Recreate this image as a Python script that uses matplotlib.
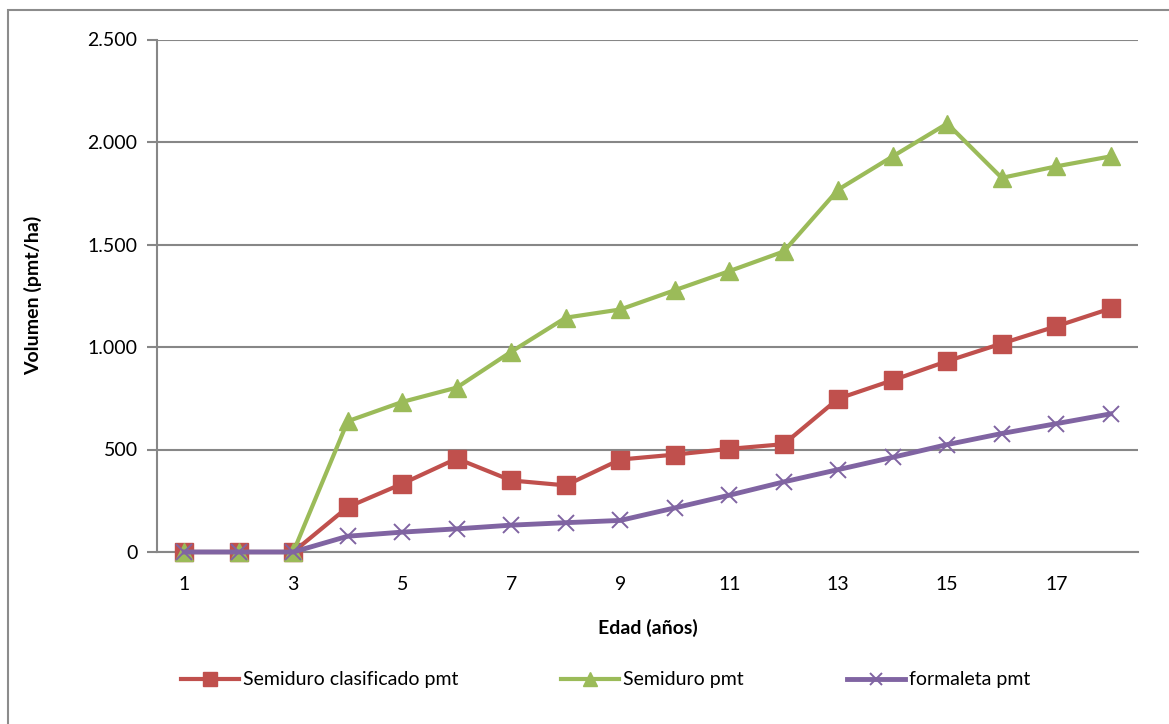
import matplotlib

matplotlib.use("Agg")
import matplotlib.pyplot as plt
from matplotlib.patches import Rectangle
from matplotlib.ticker import FuncFormatter

# Edad (años) y volumen acumulado por tipo de madera (pmt/ha)
edad = list(range(1, 19))
semiduro_clasificado = [0, 0, 0, 219, 333, 456, 349, 325, 451, 475, 503, 526, 748, 838, 931, 1017, 1101, 1188]
semiduro = [0, 0, 0, 638, 732, 802, 977, 1143, 1183, 1277, 1370, 1466, 1768, 1930, 2090, 1825, 1881, 1930]
formaleta = [0, 0, 0, 77, 97, 113, 131, 143, 154, 215, 277, 342, 402, 462, 524, 578, 626, 674]

x_ticks = list(range(1, 18, 2))
y_ticks = [0, 500, 1000, 1500, 2000, 2500]

RED = "#C0504D"
GREEN = "#9BBB59"
PURPLE = "#8064A2"
GRID = "#878787"
FS = 14

plt.rcParams["font.family"] = ["Lato", "DejaVu Sans"]

fig = plt.figure(figsize=(11.69, 7.24), dpi=100)
ax = fig.add_axes([157 / 1169, 1 - 552 / 724, (1138 - 157) / 1169, (552 - 39.5) / 724])

# chart area frame
fig.patches.append(
    Rectangle((8 / 1169, -0.1), 1.2, 1 - 10 / 724 + 0.1, transform=fig.transFigure,
              fill=False, edgecolor="#8c8c8c", linewidth=1.5, zorder=0)
)

ax.plot(edad, semiduro_clasificado, color=RED, linewidth=3, marker="s", markersize=13,
        markeredgecolor=RED, label="Semiduro clasificado pmt", zorder=3, clip_on=False)
ax.plot(edad, semiduro, color=GREEN, linewidth=3, marker="^", markersize=13,
        markeredgecolor=GREEN, label="Semiduro pmt", zorder=4, clip_on=False)
ax.plot(edad, formaleta, color=PURPLE, linewidth=3.5, marker="x", markersize=12,
        markeredgewidth=1.4, label="formaleta pmt", zorder=5, clip_on=False)

ax.set_xlim(0.5, 18.5)
ax.set_ylim(0, 2500)
ax.set_xticks(x_ticks)
ax.set_yticks(y_ticks)
ax.yaxis.set_major_formatter(FuncFormatter(lambda v, _: f"{int(v):,}".replace(",", ".")))

ax.grid(True, axis="y", color=GRID, linewidth=1.5)
ax.set_axisbelow(True)
for side in ("top", "right"):
    ax.spines[side].set_visible(False)
for side in ("left", "bottom"):
    ax.spines[side].set_color(GRID)
    ax.spines[side].set_linewidth(1.5)

ax.tick_params(axis="x", length=0, pad=17, labelsize=FS)
ax.tick_params(axis="y", length=7, width=1.5, color=GRID, pad=7, labelsize=FS)

ax.set_xlabel("Edad (años)", fontsize=FS, fontweight="bold", labelpad=19)
ax.set_ylabel("Volumen (pmt/ha)", fontsize=FS, fontweight="bold", labelpad=33)

fig.legend(*ax.get_legend_handles_labels(), loc="center left",
           bbox_to_anchor=(163 / 1169, 1 - 680 / 724), ncol=3, frameon=False,
           fontsize=FS, columnspacing=5.3, handlelength=3.0, handletextpad=0.2,
           markerscale=0.75)

plt.savefig("out.png", dpi=100)
plt.close()
